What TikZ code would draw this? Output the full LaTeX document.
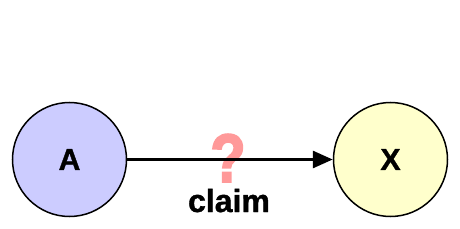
\documentclass[tikz,border=0pt]{standalone}
\usepackage{fontspec}
\setmainfont{Liberation Sans}
\newfontfamily\heavyfont[BoldFeatures={FakeBold=1.2}]{Liberation Sans}
\newfontfamily\qfont[BoldFeatures={FakeBold=3}]{Liberation Sans}
\usetikzlibrary{arrows.meta}
\definecolor{nodeA}{HTML}{CCCCFF}
\definecolor{nodeX}{HTML}{FFFFCC}
\definecolor{qpink}{HTML}{FF9999}
\tikzset{
  agent/.style={circle, draw=black, line width=1.5pt, minimum size=114pt, inner sep=0pt,
    font=\heavyfont\fontsize{30}{32}\selectfont\bfseries},
  relation/.style={line width=3pt, -{Triangle[length=20pt,width=17pt]}},
  qmark/.style={inner sep=0pt, text=qpink, font=\qfont\fontsize{68}{72}\selectfont\bfseries, xscale=0.85},
  lbl/.style={inner sep=0pt, font=\heavyfont\fontsize{32}{36}\selectfont\bfseries}
}
\begin{document}
\begin{tikzpicture}[x=1pt,y=1pt]
\useasboundingbox (0,0) rectangle (460,228);
\node[agent, fill=nodeA] (A) at (69.5,68.5) {A};
\node[agent, fill=nodeX] (X) at (390.5,68.5) {X};
\node[qmark] (q) at (228,70) {?};
\draw[relation] (A) -- (X);
\node[lbl, anchor=base] (claim) at (229,16) {claim};
\end{tikzpicture}
\end{document}
